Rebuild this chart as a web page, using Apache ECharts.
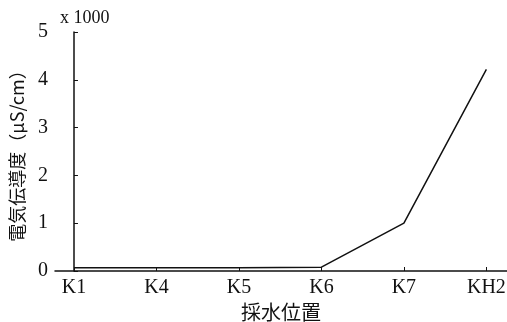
<!DOCTYPE html>
<html><head><meta charset="utf-8">
<script src="https://cdn.jsdelivr.net/npm/echarts@6/dist/echarts.min.js"></script>
<style>html,body{margin:0;padding:0;background:#fff}#c{width:507px;height:322px}</style>
</head><body><div id="c"></div>
<script>
const categories = ['K1','K4','K5','K6','K7','KH2'];
const values = [0.07, 0.07, 0.07, 0.08, 1.0, 4.22]; // x1000 μS/cm
const yTicks = [0,1,2,3,4,5];
const serif = '"Liberation Serif", "DejaVu Serif", serif';
const cjk = '"Noto Sans CJK JP", sans-serif';
const chart = echarts.init(document.getElementById('c'));
chart.setOption({
  animation: false,
  backgroundColor: '#fff',
  grid: {left: 55, top: 32, right: 0, bottom: 51, containLabel: false, outerBoundsMode: 'none'},
  xAxis: {
    type: 'value', min: -0.23, max: 5.25, interval: 1,
    name: '採水位置', nameLocation: 'middle', nameGap: 31,
    nameTextStyle: {fontFamily: cjk, fontSize: 20, color: '#111'},
    axisLine: {show: true, onZero: false, lineStyle: {color: '#111', width: 1.5}},
    axisTick: {show: true, inside: true, length: 4, lineStyle: {color: '#111'},
      customValues: categories.map((c,i)=>i)},
    axisLabel: {fontFamily: serif, fontSize: 20, color: '#111', margin: 7,
      customValues: categories.map((c,i)=>i),
      formatter: v => categories[Math.round(v)] || ''},
    splitLine: {show: false}
  },
  yAxis: {
    type: 'value', min: 0, max: 5, interval: 1,
    name: '電気伝導度（μS/cm）', nameLocation: 'middle', nameGap: 29, nameRotate: 90,
    nameTextStyle: {fontFamily: cjk, fontSize: 18, color: '#111'},
    axisLine: {show: true, lineStyle: {color: '#111', width: 1.5}},
    axisTick: {show: true, inside: true, length: 4, lineStyle: {color: '#111'}},
    axisLabel: {fontFamily: serif, fontSize: 20, color: '#111', margin: 7,
      formatter: v => String(v)},
    splitLine: {show: false}
  },
  graphic: [{type: 'text', left: 60, top: 9,
    style: {text: 'x 1000', fontFamily: serif, fontSize: 18, fill: '#111'}}],
  series: [{
    type: 'line',
    data: values.map((v,i)=>[i, v]),
    symbol: 'none',
    lineStyle: {color: '#111', width: 1.5}
  }]
});
</script></body></html>
